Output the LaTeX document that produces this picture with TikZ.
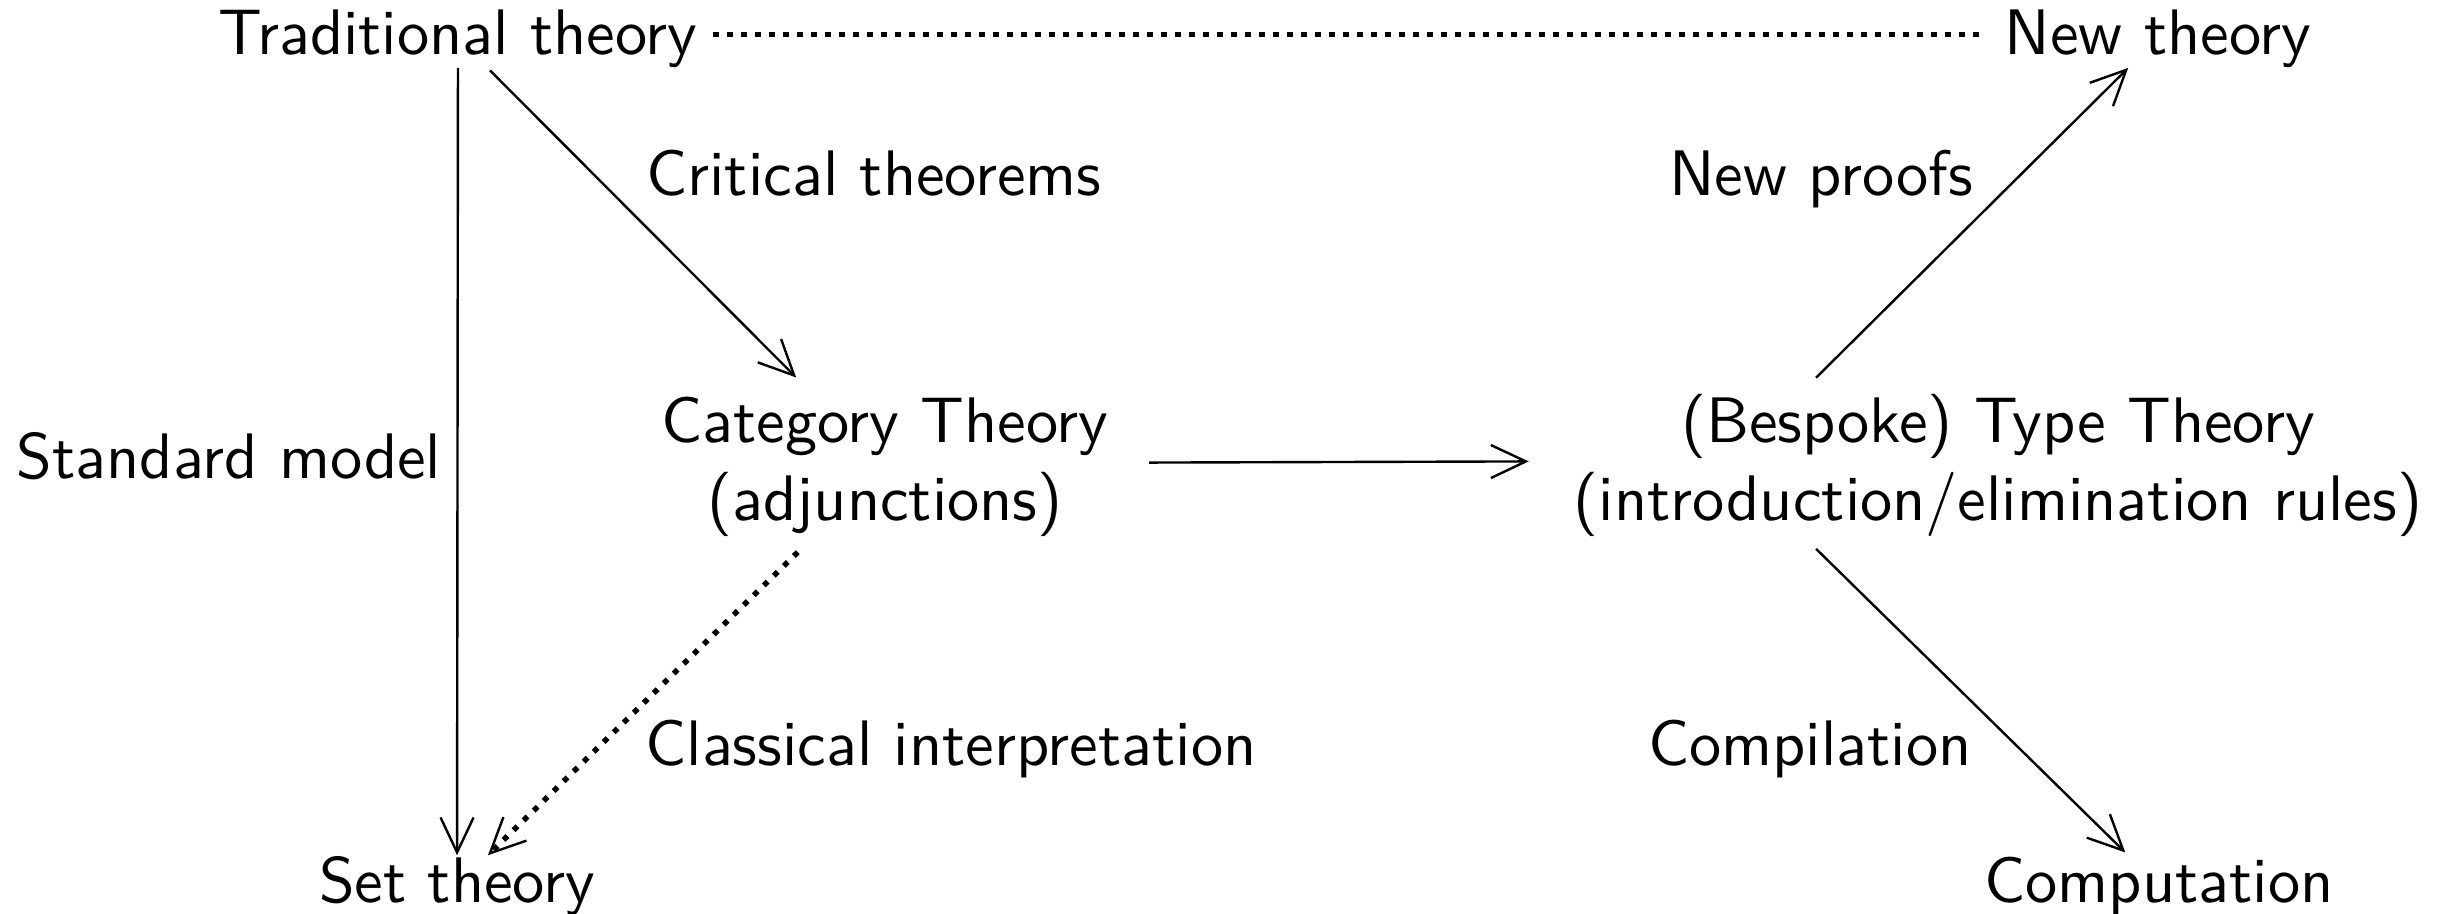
\documentclass[tikz,border=0pt]{standalone}
\usepackage{fontspec}
\newfontfamily\dsans{lmsans10-regular.otf}
\usetikzlibrary{arrows.meta}
\begin{document}
\begin{tikzpicture}[x=0.1mm,y=-0.1mm,
  lbl/.style={inner sep=0pt, anchor=base, font=\dsans\fontsize{18.3}{22}\selectfont, align=center},
  arr/.style={-{Straight Barb[length=3.5mm,width=3.3mm,line width=0.24mm]}, line width=0.24mm},
  dots/.style={line width=0.55mm, dash pattern=on 0.55mm off 0.85mm}]
\useasboundingbox (0,0) rectangle (2455,913);
\node[lbl] (trad) at (458,54) {Traditional theory};
\node[lbl] (newt) at (2158,54) {New theory};
\node[lbl] (crit) at (874,195) {Critical theorems};
\node[lbl] (proofs) at (1821,195) {New proofs};
\node[lbl] (cat) at (885,520) {Category Theory\\(adjunctions)};
\node[lbl] (type) at (1998,520) {(Bespoke) Type Theory\\(introduction/elimination rules)};
\node[lbl] (std) at (229,478) {Standard model};
\node[lbl] (class) at (951,765) {Classical interpretation};
\node[lbl] (compil) at (1810,765) {Compilation};
\node[lbl] (set) at (457,902) {Set theory};
\node[lbl] (comp) at (2159,902) {Computation};
\draw[dots] ([xshift=1.5mm,yshift=0.4mm]trad.east) -- ([xshift=-1.7mm,yshift=0.4mm]newt.west);
\draw[arr] (trad) -- (set);
\draw[arr, shorten <=0.35mm, shorten >=2.7mm] (trad) -- (cat);
\draw[arr, shorten <=4mm, shorten >=4.45mm] ([yshift=0.4mm]cat.east) -- ([yshift=0.4mm]type.west);
\draw[arr, dots, shorten <=2.2mm] (cat) -- (set);
\draw[arr] ([xshift=-18.2mm,yshift=1.6mm]type.north) -- (newt);
\draw[arr, shorten >=0.5mm] ([xshift=-18.2mm,yshift=-1.2mm]type.south) -- (comp);
\end{tikzpicture}
\end{document}
